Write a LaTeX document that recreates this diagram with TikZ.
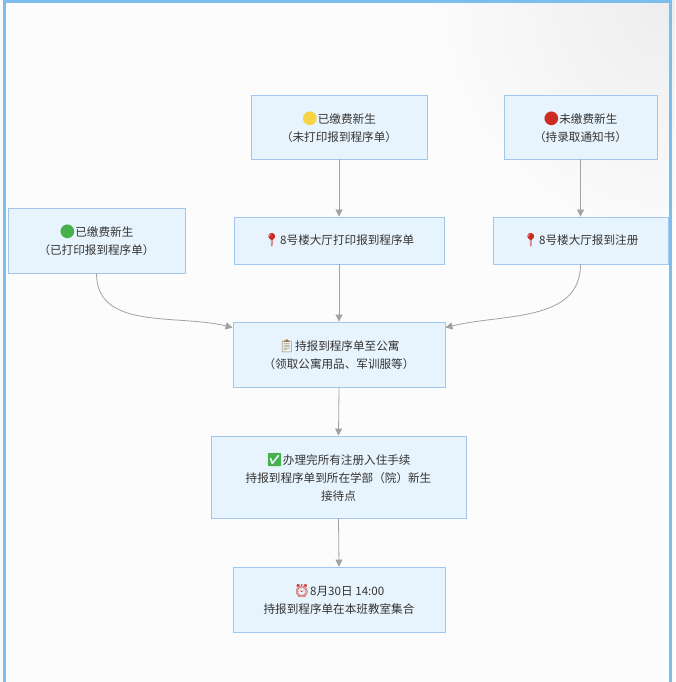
\documentclass[tikz,border=0pt]{standalone}
\usepackage{fontspec}
\setmainfont{Noto Sans CJK SC}
\newfontfamily\emoji{Noto Emoji}
\newfontfamily\kyhieu{DejaVu Sans}
\usetikzlibrary{arrows.meta}
\definecolor{nen}{HTML}{E8F4FD}
\definecolor{vien}{HTML}{A3C6EE}
\definecolor{muiten}{HTML}{A2A2A2}
\definecolor{khung}{HTML}{7CBDEE}
\definecolor{chu}{HTML}{333333}
\definecolor{vang}{HTML}{F6D443}
\definecolor{do}{HTML}{CC2B24}
\definecolor{xanh}{HTML}{46B04A}
\definecolor{nau}{HTML}{A07A4A}
\newcommand{\bieutuong}[2]{{\emoji\fontsize{13}{18}\selectfont\textcolor{#1}{#2}}}
\newcommand{\tron}[1]{{\kyhieu\fontsize{18}{18}\selectfont\textcolor{#1}{●}}}
\tikzset{hop/.style={draw=vien,fill=nen,line width=0.8pt,align=center,text=chu,
		font=\fontsize{11.6}{18}\selectfont,inner sep=0pt},
	noi/.style={draw=muiten,line width=0.8pt,-{Triangle[length=7pt,width=7pt]}}}
\begin{document}
\begin{tikzpicture}[x=1pt,y=1pt]%Hình
	\useasboundingbox (0,0) rectangle (675,682);
	\fill[white!98!gray] (0,0) rectangle (675,682);
	\begin{scope}
		\clip (0,0) rectangle (675,682);
		\shade[inner color=gray!14,outer color=white!98!gray] (675,682) circle (260);
	\end{scope}
	\draw[khung,line width=3pt] (4,0) -- (4,680.5) -- (670,680.5) -- (670,0);
	\node[hop,minimum width=176,minimum height=64] (a) at (339,555)
	{\tron{vang}已缴费新生\\（未打印报到程序单）};
	\node[hop,minimum width=153,minimum height=64] (b) at (580.5,555)
	{\tron{do}未缴费新生\\（持录取通知书）};
	\node[hop,minimum width=177,minimum height=65] (c) at (96.5,441.5)
	{\tron{xanh}已缴费新生\\（已打印报到程序单）};
	\node[hop,minimum width=210,minimum height=47] (d) at (339,441.5)
	{\bieutuong{do}{📍}8号楼大厅打印报到程序单};
	\node[hop,minimum width=175,minimum height=47] (e) at (580.5,441.5)
	{\bieutuong{do}{📍}8号楼大厅报到注册};
	\node[hop,minimum width=212,minimum height=65] (f) at (339,327.5)
	{\bieutuong{nau}{📋}持报到程序单至公寓\\（领取公寓用品、军训服等）};
	\node[hop,minimum width=255,minimum height=82] (g) at (338.5,205)
	{\bieutuong{xanh}{✅}办理完所有注册入住手续\\持报到程序单到所在学部（院）新生\\接待点};
	\node[hop,minimum width=212,minimum height=65] (h) at (339,82.5)
	{\bieutuong{do}{⏰}8月30日 14:00\\持报到程序单在本班教室集合};
	\foreach \p/\q in {a/d,b/e,d/f,f/g,g/h}
	\draw[noi] (\p.south) -- (\q.north);
	\draw[noi] (c.south) to[out=-90,in=166] ([yshift=-6]f.north west);
	\draw[noi] (e.south) to[out=-90,in=14] ([yshift=-6]f.north east);
\end{tikzpicture}
\end{document}
